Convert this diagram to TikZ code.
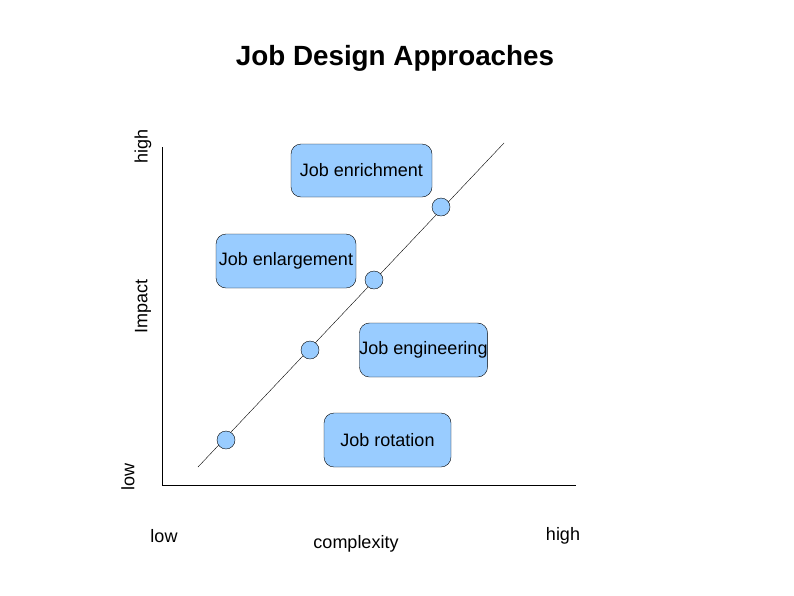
\documentclass[tikz,border=0pt]{standalone}
\usepackage{fontspec}
\setmainfont{Liberation Sans}
\definecolor{boxblue}{HTML}{99CCFF}
\begin{document}
\begin{tikzpicture}[x=1pt, y=-1pt,
    jobbox/.style={draw, fill=boxblue, rounded corners=10pt, inner sep=0pt, font=\fontsize{18}{20}\selectfont},
    dot/.style={draw, fill=boxblue, circle, minimum size=18pt, inner sep=0pt},
    lbl/.style={font=\fontsize{18}{20}\selectfont}]
    \useasboundingbox (0, 0) rectangle (794, 595);

    \node[font=\fontsize{27.8}{30}\selectfont\bfseries] (title) at (395, 58) {Job Design Approaches};

    % axes
    \coordinate (ytop) at (162, 147);
    \coordinate (origin) at (162, 485);
    \coordinate (xend) at (576, 485);
    \draw (ytop) -- (origin) -- (xend);

    \node[lbl, rotate=90] (yhigh) at (143, 146) {high};
    \node[lbl, rotate=90] (impact) at (143, 306) {Impact};
    \node[lbl, rotate=90] (ylow) at (128, 477) {low};
    \node[lbl] (xlow) at (164, 536) {low};
    \node[lbl] (cplx) at (356, 544) {complexity};
    \node[lbl] (xhigh) at (563, 536) {high};

    % diagonal
    \coordinate (dstart) at (198, 467);
    \coordinate (dend) at (504, 143);
    \draw (dstart) -- (dend);

    \node[dot] (d1) at (226, 440) {};
    \node[dot] (d2) at (310, 350) {};
    \node[dot] (d3) at (374, 280) {};
    \node[dot] (d4) at (441, 207) {};

    \node[jobbox, minimum width=141pt, minimum height=53pt] (enrich) at (361.5, 170.5) {Job enrichment};
    \node[jobbox, minimum width=140pt, minimum height=54pt] (enlarge) at (286, 261) {Job enlargement};
    \node[jobbox, minimum width=127pt, minimum height=54pt] (engin) at (423.5, 350) {Job engineering};
    \node[jobbox, minimum width=127pt, minimum height=54pt] (rotat) at (387.5, 440) {Job rotation};
\end{tikzpicture}
\end{document}
